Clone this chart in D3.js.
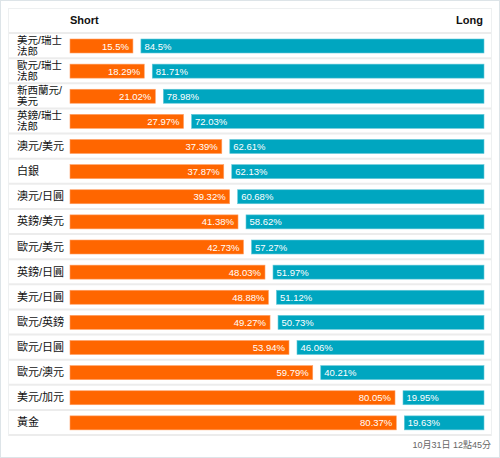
<!DOCTYPE html>
<html><head><meta charset="utf-8">
<script src="https://cdn.jsdelivr.net/npm/d3@7"></script>
<style>
html,body{margin:0;padding:0;background:#fff;}
svg{display:block;font-family:"Liberation Sans","Noto Sans CJK TC",sans-serif;}
</style></head>
<body>
<svg id="chart" width="500" height="458"></svg>
<script>
const categories = ["美元/瑞士法郎","歐元/瑞士法郎","新西蘭元/美元","英鎊/瑞士法郎","澳元/美元","白銀","澳元/日圓","英鎊/美元","歐元/美元","英鎊/日圓","美元/日圓","歐元/英鎊","歐元/日圓","歐元/澳元","美元/加元","黃金"];
const shortVals = [15.5,18.29,21.02,27.97,37.39,37.87,39.32,41.38,42.73,48.03,48.88,49.27,53.94,59.79,80.05,80.37];
const longVals  = [84.5,81.71,78.98,72.03,62.61,62.13,60.68,58.62,57.27,51.97,51.12,50.73,46.06,40.21,19.95,19.63];
const headers = ["Short","Long"];
const timestamp = "10月31日 12點45分";

const svg = d3.select("#chart");
const W = 500, H = 458;
const tableL = 8, tableR = 492, tableT = 8, headerB = 33, tableB = 435;
const barL = 70, barR = 484, gap = 8;
const rowH = (tableB - headerB) / categories.length;

// outer frame
svg.append("rect").attr("x",0.5).attr("y",0.5).attr("width",W-1).attr("height",H-1)
  .attr("fill","#fff").attr("stroke","#dde4e8");
// table frame
svg.append("rect").attr("x",tableL+0.5).attr("y",tableT+0.5).attr("width",tableR-tableL-1).attr("height",tableB-tableT)
  .attr("fill","#fff").attr("stroke","#eef0f1");

const x = d3.scaleLinear().domain([0,100]).range([0, barR - barL - gap]);
const y = d3.scaleBand().domain(d3.range(categories.length)).range([headerB, tableB]);

// headers
svg.append("text").attr("x",barL).attr("y",24).attr("font-size",11).attr("font-weight","bold").attr("fill","#111").text(headers[0]);
svg.append("text").attr("x",483).attr("y",24).attr("text-anchor","end").attr("font-size",11).attr("font-weight","bold").attr("fill","#111").text(headers[1]);

// separators
svg.selectAll("line.sep").data(d3.range(categories.length+1)).join("line")
  .attr("x1",tableL+1).attr("x2",tableR-1)
  .attr("y1",i=>headerB + i*rowH).attr("y2",i=>headerB + i*rowH)
  .attr("stroke","#ececec").attr("stroke-width",2);

const rows = svg.selectAll("g.row").data(categories).join("g")
  .attr("transform",(d,i)=>`translate(0,${y(i)})`);

// labels with wrapping
rows.each(function(d,i){
  const g = d3.select(this);
  const t = g.append("text").attr("x",17).attr("font-size",11).attr("fill","#111");
  t.text(d);
  let lines = [d];
  if (t.node().getComputedTextLength() > 50) {
    let cut = d.length;
    for (let k = d.length-1; k > 0; k--) {
      t.text(d.slice(0,k));
      if (t.node().getComputedTextLength() <= 50) { cut = k; break; }
    }
    lines = [d.slice(0,cut), d.slice(cut)];
  }
  t.text(null);
  const c = rowH/2;
  if (lines.length === 1) {
    t.append("tspan").attr("x",17).attr("y",c+4).text(lines[0]);
  } else {
    t.attr("font-size",10.5);
    t.append("tspan").attr("x",17).attr("y",c-1.5).text(lines[0]);
    t.append("tspan").attr("x",17).attr("y",c+9).text(lines[1]);
  }
});

const barY = 6, barH = 14;
// short bars
rows.append("rect").attr("x",barL).attr("y",barY)
  .attr("width",(d,i)=>x(shortVals[i])).attr("height",barH)
  .attr("fill","#ff6600").attr("stroke","#ffa066").attr("stroke-width",0.6);
// long bars
rows.append("rect").attr("x",(d,i)=>barL + x(shortVals[i]) + gap).attr("y",barY)
  .attr("width",(d,i)=>x(longVals[i])).attr("height",barH)
  .attr("fill","#00a6c0").attr("stroke","#66c9d9").attr("stroke-width",0.6);

// value labels
rows.append("text").attr("x",(d,i)=>barL + x(shortVals[i]) - 4).attr("y",barY+barH/2+3.5)
  .attr("text-anchor","end").attr("font-size",9.5).attr("fill","#fff")
  .text((d,i)=>shortVals[i]+"%");
rows.append("text").attr("x",(d,i)=>barL + x(shortVals[i]) + gap + 3.5).attr("y",barY+barH/2+3.5)
  .attr("font-size",9.5).attr("fill","#fff")
  .text((d,i)=>longVals[i]+"%");

// footer
svg.append("text").attr("x",491).attr("y",448).attr("text-anchor","end").attr("font-size",9).attr("fill","#666").text(timestamp);
</script>
</body></html>
